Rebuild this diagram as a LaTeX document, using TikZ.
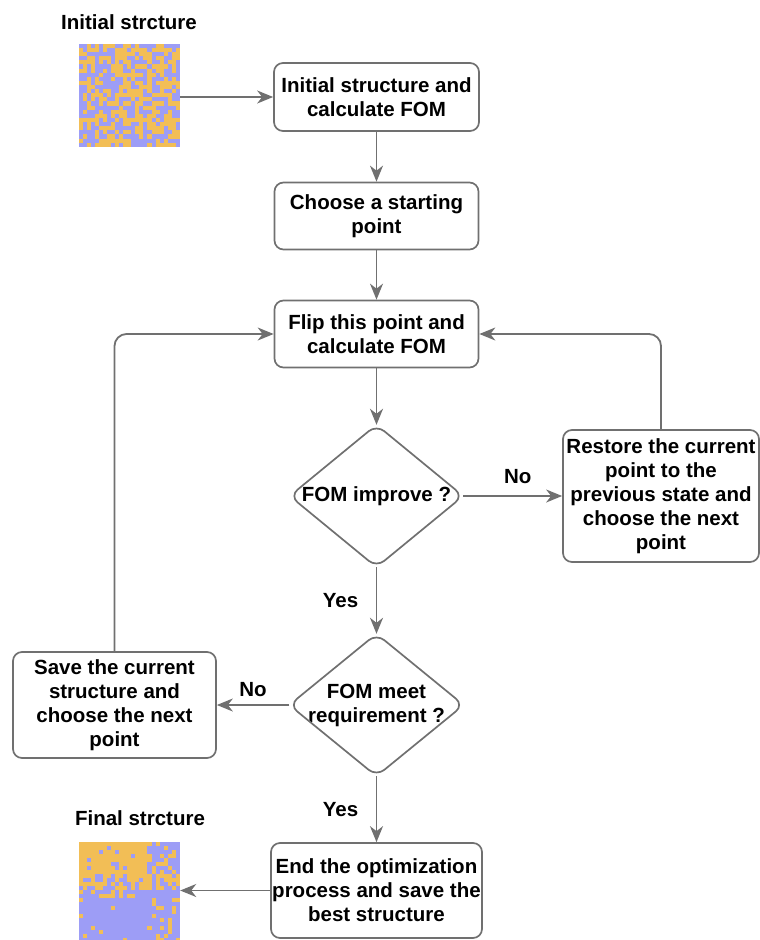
\documentclass[tikz,border=0pt]{standalone}
\usepackage{fontspec}
\setmainfont{Liberation Sans}
\usetikzlibrary{calc,positioning,arrows.meta}
\definecolor{flowgray}{HTML}{707070}
\definecolor{cellgold}{HTML}{F2BE56}
\definecolor{cellviolet}{HTML}{9D9DF6}

\tikzset{
  flowfont/.style={font=\bfseries\fontsize{20.5}{24}\selectfont},
  procbox/.style={flowfont, draw=flowgray, line width=1.7pt, rounded corners=9pt,
    fill=white, align=center, inner sep=0pt},
  decision/.style={flowfont, align=center, inner sep=0pt},
  gridbox/.style={inner sep=0pt, minimum width=101pt},
  flow/.style={draw=flowgray, line width=1.8pt,
    -{Stealth[length=16pt,width=13pt,inset=5pt]}},
  lbl/.style={flowfont}
}

\begin{document}
\begin{tikzpicture}[x=1pt,y=-1pt]
  \useasboundingbox (0,0) rectangle (760,940);

  % structures
  \node[lbl] (inittitle) at (129,22) {Initial strcture};
  \node[gridbox, minimum height=103pt] (initgrid) at (129.5,95.5) {};
  \node[lbl] (finaltitle) at (140,818) {Final strcture};
  \node[gridbox, minimum height=100pt] (finalgrid) at (129.5,892) {};

  \fill[cellviolet] (initgrid.north west) rectangle (initgrid.south east);
  \pgfmathsetseed{11}
  \foreach \r in {0,...,24}{
    \foreach \c in {0,...,24}{
      \pgfmathtruncatemacro\pick{rnd<0.5 ? 1 : 0}
      \ifnum\pick=1
        \fill[cellgold] ($(initgrid.north west)+(\c*4.04,\r*4.12)$) rectangle ++(4.04,4.12);
      \fi
    }
  }

  \fill[cellviolet] (finalgrid.north west) rectangle (finalgrid.south east);
  \pgfmathsetseed{5}
  \foreach \r in {0,...,24}{
    \foreach \c in {0,...,24}{
      \pgfmathsetmacro\p{(\r<8)*((\c<17)*0.92+(\c>=17)*0.3)
        + (\r>=8)*(\r<14)*(0.78-(\r-8)*0.12)
        + (\r>=14)*(0.03+(\c>17)*0.22)}
      \pgfmathtruncatemacro\pick{rnd<\p ? 1 : 0}
      \ifnum\pick=1
        \fill[cellgold] ($(finalgrid.north west)+(\c*4.04,\r*4)$) rectangle ++(4.04,4);
      \fi
    }
  }

  % flow chart
  \node[procbox, minimum width=205pt, minimum height=68pt] (start) at (376.5,97)
    {Initial structure and\\calculate FOM};
  \node[procbox, minimum width=204pt, minimum height=67pt] (choose) at (376.5,216)
    {Choose a starting\\point};
  \node[procbox, minimum width=204pt, minimum height=67pt] (flip) at (376.5,334)
    {Flip this point and\\calculate FOM};
  \node[decision, minimum width=173pt, minimum height=142pt] (improve) at (376.5,496)
    {FOM improve ?};
  \node[procbox, minimum width=196pt, minimum height=132pt] (restore) at (661,496)
    {Restore the current\\point to the\\previous state and\\choose the next\\point};
  \node[decision, minimum width=174pt, minimum height=142pt] (meet) at (376.5,705)
    {FOM meet\\requirement ?};
  \node[procbox, minimum width=203pt, minimum height=106pt] (save) at (114.5,705)
    {Save the current\\structure and\\choose the next\\point};
  \node[procbox, minimum width=211pt, minimum height=95pt] (finish) at (376.5,890.5)
    {End the optimization\\process and save the\\best structure};

  \foreach \d in {improve,meet}
    \draw[flowgray, line width=1.7pt, rounded corners=10pt]
      (\d.north) -- (\d.east) -- (\d.south) -- (\d.west) -- cycle;

  \draw[flow] (initgrid.east |- start.west) -- (start.west);
  \draw[flow] (start) -- (choose);
  \draw[flow] (choose) -- (flip);
  \draw[flow] (flip.south) -- (improve.north);
  \draw[flow] (improve.east) -- (restore.west)
    node[lbl, midway, above=8pt, xshift=5pt] {No};
  \draw[flow, rounded corners=12pt] (restore.north) |- (flip.east);
  \draw[flow] (improve.south) -- (meet.north)
    node[lbl, midway, left=14pt] {Yes};
  \draw[flow] (meet.west) -- (save.east)
    node[lbl, midway, above=4pt] {No};
  \draw[flow, rounded corners=12pt] (save.north) |- (flip.west);
  \draw[flow] (meet.south) -- (finish.north)
    node[lbl, midway, left=14pt] {Yes};
  \draw[flow] (finish.west) -- (finalgrid.east |- finish.west);
\end{tikzpicture}
\end{document}
